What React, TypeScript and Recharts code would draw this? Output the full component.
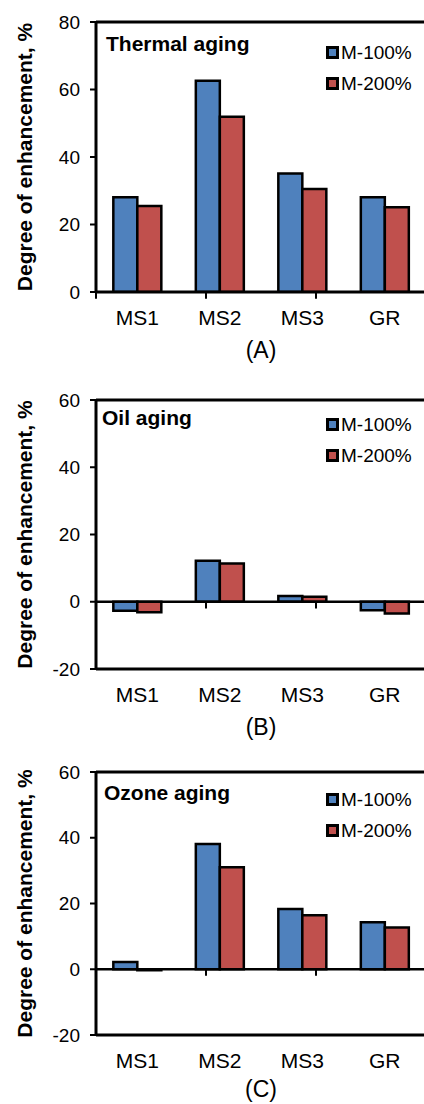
import { BarChart, Bar, XAxis, YAxis, Legend, ReferenceLine } from "recharts";

const FONT = '"Liberation Sans", Arial, sans-serif';

const categories = ["MS1", "MS2", "MS3", "GR"];
const seriesNames = ["M-100%", "M-200%"];

const thermal100 = [28.1, 62.6, 35.1, 28.1];
const thermal200 = [25.5, 51.9, 30.5, 25.1];
const oil100 = [-2.7, 12.2, 1.7, -2.5];
const oil200 = [-3.1, 11.4, 1.5, -3.5];
const ozone100 = [2.2, 38.1, 18.3, 14.3];
const ozone200 = [-0.3, 31.0, 16.4, 12.7];

const ticksA = [0, 20, 40, 60, 80];
const ticksBC = [-20, 0, 20, 40, 60];
// category boundaries, drawn as small ticks under the zero line
const bounds = [0, 1, 2, 3];

const BLUE = "#4f81bd";
const RED = "#c0504d";

const panels = [
  {
    id: "A",
    title: "Thermal aging",
    m100: thermal100,
    m200: thermal200,
    domain: [0, 80],
    ticks: ticksA,
    top: 0,
    height: 370,
    marginTop: 22,
    marginBottom: 8,
    axisH: 70,
    titleX: 106,
    titleY: 33,
    legendY: 37,
  },
  {
    id: "B",
    title: "Oil aging",
    m100: oil100,
    m200: oil200,
    domain: [-20, 60],
    ticks: ticksBC,
    top: 370,
    height: 374,
    marginTop: 30,
    marginBottom: 5,
    axisH: 70,
    titleX: 102,
    titleY: 37,
    legendY: 39,
  },
  {
    id: "C",
    title: "Ozone aging",
    m100: ozone100,
    m200: ozone200,
    domain: [-20, 60],
    ticks: ticksBC,
    top: 740,
    height: 364,
    marginTop: 32,
    marginBottom: 3,
    axisH: 66,
    titleX: 104,
    titleY: 42,
    legendY: 44,
  },
];

const YLabel = (props: any) => {
  const vb = props.viewBox || { x: 0, y: 0, width: 96, height: 270 };
  const cx = vb.x + 24;
  const cy = vb.y + vb.height / 2;
  return (
    <text
      x={cx}
      y={cy}
      transform={`rotate(-90 ${cx} ${cy})`}
      textAnchor="middle"
      dominantBaseline="central"
      fontSize={21}
      fontWeight="bold"
      fill="#000"
    >
      Degree of enhancement, %
    </text>
  );
};

const renderLegend = (props: any) => (
  <div style={{ fontSize: 19, color: "#000" }}>
    {(props.payload || []).map((item: any) => (
      <div
        key={item.value}
        style={{ display: "flex", alignItems: "center", height: 31 }}
      >
        <span
          style={{
            width: 7,
            height: 7,
            border: "3px solid #000",
            background: item.color,
            marginRight: 2,
          }}
        />
        <span>{item.value}</span>
      </div>
    ))}
  </div>
);

function Panel({ p }: { p: any }) {
  const rows = categories.map((name, i) => ({
    name,
    m100: p.m100[i],
    m200: p.m200[i],
  }));
  return (
    <div
      style={{
        position: "absolute",
        left: 0,
        top: p.top,
        width: 430,
        height: p.height,
      }}
    >
      <BarChart
        width={430}
        height={p.height}
        data={rows}
        margin={{ top: p.marginTop, right: 4, bottom: p.marginBottom, left: 0 }}
        barCategoryGap="21%"
        barGap={0}
      >
        <XAxis
          dataKey="name"
          height={p.axisH}
          interval={0}
          tickLine={false}
          tickSize={0}
          tickMargin={18}
          axisLine={{ stroke: "#000", strokeWidth: 3 }}
          tick={{ fill: "#000", fontSize: 21 }}
          label={{
            value: `(${p.id})`,
            position: "insideBottom",
            offset: 4,
            fill: "#000",
            fontSize: 23,
          }}
        />
        <XAxis xAxisId="grid" type="number" domain={[0, 4]} hide />
        <YAxis
          width={96}
          domain={p.domain}
          ticks={p.ticks}
          interval={0}
          allowDataOverflow
          tickSize={6}
          tickMargin={10}
          tickLine={{ stroke: "#000", strokeWidth: 2 }}
          axisLine={{ stroke: "#000", strokeWidth: 3 }}
          tick={{ fill: "#000", fontSize: 19 }}
          label={<YLabel />}
        />
        <Legend
          layout="vertical"
          align="center"
          verticalAlign="middle"
          wrapperStyle={{ left: 326, top: p.legendY, width: "auto" }}
          content={renderLegend}
        />
        <Bar
          dataKey="m100"
          name={seriesNames[0]}
          fill={BLUE}
          stroke="#000"
          strokeWidth={2.5}
          isAnimationActive={false}
        />
        <Bar
          dataKey="m200"
          name={seriesNames[1]}
          fill={RED}
          stroke="#000"
          strokeWidth={2.5}
          isAnimationActive={false}
        />
        {p.domain[0] < 0 && (
          <ReferenceLine y={0} stroke="#000" strokeWidth={2.5} />
        )}
        <ReferenceLine
          y={p.domain[1]}
          stroke="#000"
          strokeWidth={3}
          ifOverflow="visible"
        />
        {bounds.map((b) => (
          <ReferenceLine
            key={b}
            xAxisId="grid"
            segment={[
              { x: b, y: 0 },
              { x: b, y: -2 },
            ]}
            stroke="#000"
            strokeWidth={2}
            ifOverflow="visible"
          />
        ))}
      </BarChart>
      <div
        style={{
          position: "absolute",
          left: p.titleX,
          top: p.titleY,
          fontSize: 21,
          lineHeight: "21px",
          fontWeight: "bold",
          color: "#000",
          whiteSpace: "nowrap",
        }}
      >
        {p.title}
      </div>
    </div>
  );
}

export default function App() {
  return (
    <div
      style={{
        position: "absolute",
        left: 0,
        top: 0,
        width: 424,
        height: 1104,
        overflow: "hidden",
        background: "#fff",
        fontFamily: FONT,
      }}
    >
      {panels.map((p) => (
        <Panel key={p.id} p={p} />
      ))}
    </div>
  );
}
